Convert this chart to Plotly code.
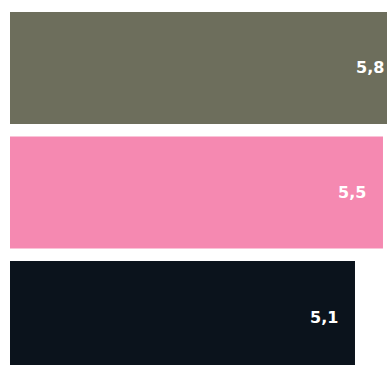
import plotly.graph_objects as go

categories = ["A", "B", "C"]
values = [5.76, 5.5, 5.1]
labels = ["5,8", "5,5", "5,1"]
colors = ["#6d6e5c", "#f589b1", "#0b131c"]

fig = go.Figure(
    go.Bar(
        y=categories,
        x=values,
        orientation="h",
        marker=dict(color=colors, line=dict(width=0)),
        hoverinfo="skip",
    )
)

# Value labels sit inside the end of each bar
for cat, val, lab in zip(categories, values, labels):
    fig.add_annotation(
        x=val,
        y=cat,
        xref="x",
        yref="y",
        text=lab,
        showarrow=False,
        xanchor="right",
        yanchor="middle",
        xshift=-15,
        font=dict(family="DejaVu Sans", size=16, color="white", weight="bold"),
    )

# The figure is wider than the 387px window; the overflow is hidden,
# so the top bar runs off the right edge as in the reference.
fig.update_layout(
    width=410,
    height=365,
    margin=dict(l=10, r=0, t=0, b=0),
    paper_bgcolor="white",
    plot_bgcolor="white",
    bargap=0.1,
    showlegend=False,
)
fig.update_xaxes(range=[0.171, 5.886], visible=False, showgrid=False, zeroline=False)
fig.update_yaxes(range=[2.385, -0.546], visible=False, showgrid=False, zeroline=False)

fig.write_html(
    "out.html",
    config={"displayModeBar": False},
    post_script="document.body.style.margin='0';document.body.style.overflow='hidden';",
)
